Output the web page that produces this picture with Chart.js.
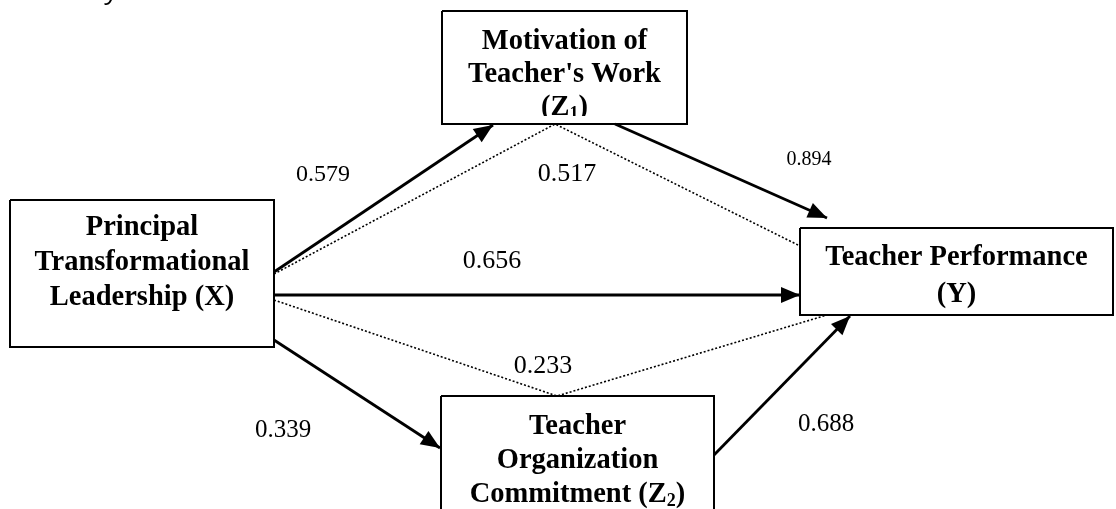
<!DOCTYPE html>
<html>
<head>
<meta charset="utf-8">
<script src="https://cdn.jsdelivr.net/npm/chart.js@4/dist/chart.umd.min.js"></script>
<style>
  html, body { margin: 0; padding: 0; background: #ffffff; }
  #wrap { width: 1116px; height: 509px; position: relative; }
</style>
</head>
<body>
<div id="wrap"><canvas id="c" width="1116" height="509"></canvas></div>
<script>
// ---------------- DATA ----------------
const titleText = 'Path Analysis Results';
const nodeIds = ['X', 'Z1', 'Z2', 'Y'];
const nodeLabels = [
  ['Principal', 'Transformational', 'Leadership (X)'],
  ['Motivation of', "Teacher's Work", '(Z_1)'],
  ['Teacher', 'Organization', 'Commitment (Z_2)'],
  ['Teacher Performance', '(Y)']
];
const directFrom = ['X', 'X', 'X', 'Z1', 'Z2'];
const directTo   = ['Z1', 'Y', 'Z2', 'Y', 'Y'];
const directCoef = ['0.579', '0.656', '0.339', '0.894', '0.688'];
const indirectVia  = ['Z1', 'Z2'];
const indirectCoef = ['0.517', '0.233'];

// ---------------- LAYOUT (positions / styles) ----------------
const W = 1116, H = 509;
const boxGeom = {
  X:  { x0: 10,  y0: 200, x1: 274,  y1: 347, firstY: 228, lh: 35 },
  Z1: { x0: 442, y0: 11,  x1: 687,  y1: 124, firstY: 42,  lh: 33, clipY: 116 },
  Z2: { x0: 441, y0: 396, x1: 714,  y1: 540, firstY: 427, lh: 34 },
  Y:  { x0: 800, y0: 228, x1: 1113, y1: 315, firstY: 258, lh: 37 }
};
const directGeom = [
  { a: [274, 272], b: [493, 125], lab: [323, 175], fs: 24 },
  { a: [274, 295], b: [800, 295], lab: [492, 261], fs: 26 },
  { a: [274, 340], b: [440, 448], lab: [283, 430], fs: 25 },
  { a: [615, 124], b: [827, 218], lab: [809, 160], fs: 20 },
  { a: [714, 455], b: [850, 316], lab: [826, 424], fs: 25 }
];
const indirectGeom = [
  { pts: [[274, 274], [555, 124], [800, 246]], lab: [567, 174], fs: 26 },
  { pts: [[274, 300], [557, 396], [827, 315]], lab: [543, 366], fs: 26 }
];
const BOX_FONT_SIZE = 28.5;
const LAB_FONT_FAMILY = '"Liberation Serif", "Times New Roman", serif';

// ---------------- DATASETS ----------------
const datasets = [];
nodeIds.forEach((id) => {
  const g = boxGeom[id];
  datasets.push({
    type: 'line', kind: 'box', node: id,
    data: [{x: g.x0, y: g.y0}, {x: g.x1, y: g.y0}, {x: g.x1, y: g.y1}, {x: g.x0, y: g.y1}, {x: g.x0, y: g.y0}],
    borderColor: '#000', borderWidth: 2, pointRadius: 0, fill: false, tension: 0,
    borderJoinStyle: 'miter', clip: false
  });
});
directFrom.forEach((f, i) => {
  const g = directGeom[i];
  datasets.push({
    type: 'line', kind: 'arrow', coef: directCoef[i], geomIndex: i,
    data: [{x: g.a[0], y: g.a[1]}, {x: g.b[0], y: g.b[1]}],
    borderColor: '#000', borderWidth: 2.8, pointRadius: 0, fill: false
  });
});
indirectVia.forEach((v, i) => {
  const g = indirectGeom[i];
  datasets.push({
    type: 'line', kind: 'dotted', coef: indirectCoef[i], geomIndex: i,
    data: g.pts.map(p => ({x: p[0], y: p[1]})),
    borderColor: '#000', borderWidth: 1.6, borderDash: [2, 2], pointRadius: 0, fill: false
  });
});

// ---------------- PLUGIN: arrowheads and text ----------------
function drawRich(ctx, str, cx, cy, size, bold) {
  const parts = [];
  const re = /_(\d)/g;
  let last = 0, m;
  while ((m = re.exec(str)) !== null) {
    if (m.index > last) parts.push({ t: str.slice(last, m.index), sub: false });
    parts.push({ t: m[1], sub: true });
    last = m.index + m[0].length;
  }
  if (last < str.length) parts.push({ t: str.slice(last), sub: false });
  const w = bold ? 'bold ' : '';
  const fMain = w + size + 'px ' + LAB_FONT_FAMILY;
  const fSub = w + Math.round(size * 0.62) + 'px ' + LAB_FONT_FAMILY;
  let total = 0;
  parts.forEach(p => { ctx.font = p.sub ? fSub : fMain; p.w = ctx.measureText(p.t).width; total += p.w; });
  let x = cx - total / 2;
  ctx.textAlign = 'left';
  ctx.textBaseline = 'middle';
  parts.forEach(p => {
    ctx.font = p.sub ? fSub : fMain;
    ctx.fillText(p.t, x, p.sub ? cy + size * 0.22 : cy);
    x += p.w;
  });
}

const diagramPlugin = {
  id: 'diagram',
  afterDatasetsDraw(chart) {
    const ctx = chart.ctx;
    const xs = chart.scales.x, ys = chart.scales.y;
    const px = v => xs.getPixelForValue(v), py = v => ys.getPixelForValue(v);
    ctx.save();
    ctx.fillStyle = '#000';
    // arrowheads
    chart.data.datasets.forEach((ds, di) => {
      if (ds.kind !== 'arrow') return;
      const pts = chart.getDatasetMeta(di).data;
      const a = pts[pts.length - 2], b = pts[pts.length - 1];
      const ang = Math.atan2(b.y - a.y, b.x - a.x);
      const L = 19, HW = 8;
      ctx.beginPath();
      ctx.moveTo(b.x, b.y);
      ctx.lineTo(b.x - L * Math.cos(ang) + HW * Math.sin(ang), b.y - L * Math.sin(ang) - HW * Math.cos(ang));
      ctx.lineTo(b.x - L * Math.cos(ang) - HW * Math.sin(ang), b.y - L * Math.sin(ang) + HW * Math.cos(ang));
      ctx.closePath();
      ctx.fill();
    });
    // coefficient labels
    chart.data.datasets.forEach((ds) => {
      if (ds.kind === 'arrow') {
        const g = directGeom[ds.geomIndex];
        drawRich(ctx, ds.coef, px(g.lab[0]), py(g.lab[1]), g.fs, false);
      } else if (ds.kind === 'dotted') {
        const g = indirectGeom[ds.geomIndex];
        drawRich(ctx, ds.coef, px(g.lab[0]), py(g.lab[1]), g.fs, false);
      }
    });
    // node labels
    nodeIds.forEach((id, ni) => {
      const g = boxGeom[id];
      const cx = (px(g.x0) + px(g.x1)) / 2;
      ctx.save();
      if (g.clipY) {
        ctx.beginPath();
        ctx.rect(px(g.x0), py(g.y0), px(g.x1) - px(g.x0), py(g.clipY) - py(g.y0));
        ctx.clip();
      }
      nodeLabels[ni].forEach((line, li) => {
        drawRich(ctx, line, cx, py(g.firstY + li * g.lh), BOX_FONT_SIZE, true);
      });
      ctx.restore();
    });
    // cut-off title at the very top (only the bottoms of the glyphs are visible)
    ctx.font = 'italic 26px "Open Sans", "DejaVu Sans", sans-serif';
    ctx.textAlign = 'left';
    ctx.textBaseline = 'alphabetic';
    const pre = ctx.measureText('Path Anal').width;
    ctx.fillText(titleText, px(107) - pre, py(-1));
    ctx.restore();
  }
};

new Chart(document.getElementById('c'), {
  type: 'scatter',
  data: { datasets },
  options: {
    responsive: false,
    animation: false,
    events: [],
    layout: { padding: 0 },
    plugins: { legend: { display: false }, tooltip: { enabled: false }, title: { display: false } },
    elements: { line: { capBezierPoints: false } },
    scales: {
      x: { type: 'linear', min: 0, max: W, display: false },
      y: { type: 'linear', min: 0, max: H, reverse: true, display: false }
    }
  },
  plugins: [diagramPlugin]
});
</script>
</body>
</html>
